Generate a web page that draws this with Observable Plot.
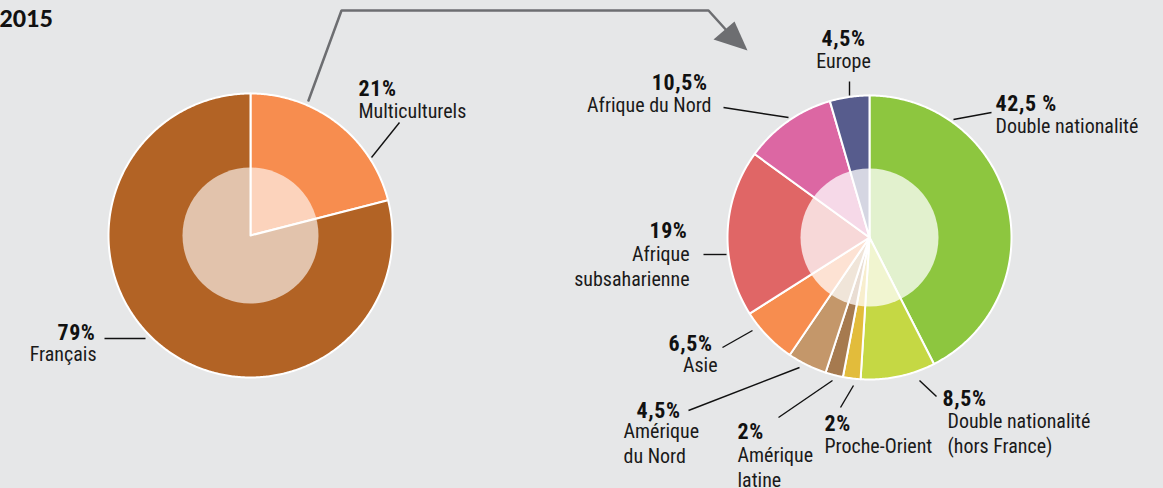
<!DOCTYPE html>
<html>
<head>
<meta charset="utf-8">
<script src="https://cdn.jsdelivr.net/npm/d3@7"></script>
<script src="https://cdn.jsdelivr.net/npm/@observablehq/plot@0.6"></script>
<style>
  html, body { margin: 0; padding: 0; background: #E6E7E8; }
  #chart { width: 1163px; height: 488px; overflow: hidden; }
  #chart g[font-weight="bold"] { letter-spacing: 0.6px; }
</style>
</head>
<body>
<div id="chart"></div>
<script>
// ---------- DATA ----------
const year = "2015";

const leftCategories = ["Multiculturels", "Français"];
const leftValues = [21, 79];
const leftPctLabels = ["21%", "79%"];
const leftNames = ["Multiculturels", "Français"];
const leftColors = ["#F78D4F", "#B26325"];

const rightCategories = [
  "Double nationalité", "Double nationalité (hors France)", "Proche-Orient",
  "Amérique latine", "Amérique du Nord", "Asie", "Afrique subsaharienne",
  "Afrique du Nord", "Europe"
];
const rightValues = [42.5, 8.5, 2, 2, 4.5, 6.5, 19, 10.5, 4.5];
const rightPctLabels = ["42,5 %", "8,5%", "2%", "2%", "4,5%", "6,5%", "19%", "10,5%", "4,5%"];
const rightNames = [
  "Double nationalité", "Double nationalité\n(hors France)", "Proche-Orient",
  "Amérique\nlatine", "Amérique\ndu Nord", "Asie", "Afrique\nsubsaharienne",
  "Afrique du Nord", "Europe"
];
const rightColors = ["#8DC63F", "#C5D844", "#E2BC3B", "#A67A4F", "#C4976A", "#F78D4F", "#E06666", "#DC67A3", "#575C8D"];

// ---------- LAYOUT (positions / sizes, separate from data) ----------
const W = 1163, H = 488;
const pies = [
  {cx: 250, cy: 235, r: 142, inner: 68, alpha: 0.62},
  {cx: 869, cy: 237, r: 142, inner: 69, alpha: 0.75}
];
const leftLayout = [
  {pa: "start", px: 358, py: 95, na: "start", nx: 358, ny: 117, l: [371, 157, 399, 122]},
  {pa: "end", px: 95, py: 339, na: "end", nx: 96, ny: 360, l: [104, 338, 145, 338]}
];
const rightLayout = [
  {pa: "start", px: 995, py: 110, na: "start", nx: 995, ny: 132, l: [953, 119, 991, 112]},
  {pa: "start", px: 942, py: 405, na: "start", nx: 947, ny: 427, l: [919, 380, 936, 396]},
  {pa: "start", px: 824, py: 430, na: "start", nx: 824, ny: 452, l: [840, 407, 853, 385]},
  {pa: "start", px: 737, py: 438, na: "start", nx: 737, ny: 461, l: [778, 417, 832, 380]},
  {pa: "end", px: 680, py: 417, na: "start", nx: 623, ny: 437, l: [688, 410, 799, 367]},
  {pa: "end", px: 712, py: 350, na: "end", nx: 717, ny: 371, l: [722, 347, 752, 330]},
  {pa: "end", px: 687, py: 237, na: "end", nx: 689, ny: 260, l: [703, 254, 726, 254]},
  {pa: "end", px: 707, py: 89, na: "end", nx: 711, ny: 111, l: [723, 107, 788, 117]},
  {pa: "middle", px: 843, py: 45, na: "middle", nx: 843, ny: 67, l: [849, 81, 849, 95]}
];
const connector = [[308, 100], [341, 10], [708, 10], [727, 31]];
const arrowHead = [[713, 39], [734, 21], [747, 50]];

// ---------- BUILD ----------
const FONT = "'Roboto Condensed', 'Liberation Sans Narrow', Roboto, sans-serif";
// fit the label font so that "Double nationalité" spans ~143px as in the reference
const ctx = document.createElement("canvas").getContext("2d");
ctx.font = `100px ${FONT}`;
const refW = ctx.measureText("Double nationalité").width;
const FS = Math.min(22, 100 * 143 / refW);
const PCT_FS = FS * 1.1;
const LINE_PX = 25;
const LH = LINE_PX / FS;

function wedges(categories, values, pie) {
  const arcs = d3.pie().sort(null).value(d => d)(values);
  const pts = [];
  arcs.forEach((a, i) => {
    const key = categories[i];
    pts.push({key, cat: key, x: pie.cx, y: pie.cy});
    const n = Math.max(2, Math.ceil((a.endAngle - a.startAngle) / 0.01));
    for (let k = 0; k <= n; k++) {
      const t = a.startAngle + (a.endAngle - a.startAngle) * k / n;
      pts.push({key, cat: key, x: pie.cx + pie.r * Math.sin(t), y: pie.cy - pie.r * Math.cos(t)});
    }
    pts.push({key, cat: key, x: pie.cx, y: pie.cy});
  });
  return pts;
}

const wedgePts = [
  ...wedges(leftCategories, leftValues, pies[0]),
  ...wedges(rightCategories, rightValues, pies[1])
];

const labels = [
  ...leftCategories.map((c, i) => ({pct: leftPctLabels[i], name: leftNames[i], ...leftLayout[i]})),
  ...rightCategories.map((c, i) => ({pct: rightPctLabels[i], name: rightNames[i], ...rightLayout[i]}))
];
const leaders = labels.map(d => ({x1: d.l[0], y1: d.l[1], x2: d.l[2], y2: d.l[3]}));

const anchors = ["start", "middle", "end"];
const pctMarks = anchors.map(a => Plot.text(labels.filter(d => d.pa === a), {
  x: "px", y: "py", text: "pct", textAnchor: a, lineAnchor: "bottom",
  fontFamily: FONT, fontSize: PCT_FS, fontWeight: "bold", fill: "#111"
}));
const nameMarks = anchors.map(a => Plot.text(labels.filter(d => d.na === a), {
  x: "nx", y: "ny", text: "name", textAnchor: a, lineAnchor: "top", lineHeight: LH,
  dy: -0.71 * LH * FS,
  fontFamily: FONT, fontSize: FS, fill: "#1a1a1a"
}));

const chart = Plot.plot({
  width: W, height: H,
  marginTop: 0, marginRight: 0, marginBottom: 0, marginLeft: 0,
  x: {domain: [0, W], range: [0, W], axis: null},
  y: {domain: [0, H], range: [0, H], axis: null},
  color: {domain: [...leftCategories, ...rightCategories], range: [...leftColors, ...rightColors]},
  style: {background: "#E6E7E8", overflow: "visible"},
  marks: [
    Plot.line(connector.map(([x, y]) => ({x, y})), {x: "x", y: "y", stroke: "#6D6E71", strokeWidth: 2.5, strokeLinejoin: "miter"}),
    Plot.line(arrowHead.map(([x, y]) => ({x, y})), {x: "x", y: "y", fill: "#6D6E71", stroke: "none"}),
    Plot.line(wedgePts, {x: "x", y: "y", z: "key", fill: "cat", stroke: "white", strokeWidth: 2, strokeLinejoin: "round"}),
    ...pies.map(p => Plot.dot([p], {x: "cx", y: "cy", r: p.inner, fill: "white", fillOpacity: p.alpha, stroke: "none"})),
    Plot.link(leaders, {x1: "x1", y1: "y1", x2: "x2", y2: "y2", stroke: "#111", strokeWidth: 1.4}),
    ...pctMarks,
    ...nameMarks,
    Plot.text([{x: -1, y: 26, t: year}], {x: "x", y: "y", text: "t", textAnchor: "start", lineAnchor: "bottom",
      fontFamily: "Lato, 'Liberation Sans', sans-serif", fontWeight: 900, fontSize: 23, fill: "#111"})
  ]
});
document.getElementById("chart").appendChild(chart);
</script>
</body>
</html>
